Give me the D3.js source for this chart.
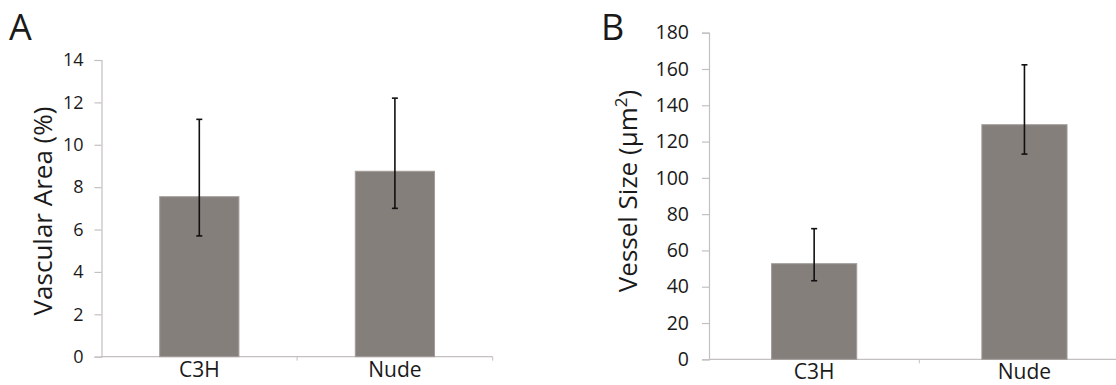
<!DOCTYPE html>
<html>
<head>
<meta charset="utf-8">
<script src="https://cdn.jsdelivr.net/npm/d3@7"></script>
<style>
  body { margin: 0; background: #fff; }
  text { font-family: "Open Sans", sans-serif; fill: #1a1a1a; }
</style>
</head>
<body>
<div class="chart"></div>
<script>
// data
var categories   = ["C3H", "Nude"];

var areaValues   = [7.55, 8.75];
var areaErrHigh  = [11.2, 12.2];
var areaErrLow   = [5.7, 7.0];
var areaTicks    = [0, 2, 4, 6, 8, 10, 12, 14];

var sizeValues   = [52.7, 129.3];
var sizeErrHigh  = [72.0, 162.3];
var sizeErrLow   = [43.3, 113.1];
var sizeTicks    = [0, 20, 40, 60, 80, 100, 120, 140, 160, 180];

var svg = d3.select(".chart")
    .append("svg")
    .attr("width", 1116)
    .attr("height", 385);

function drawPanel(opt)
{
    var g = svg.append("g");

    var x = d3.scaleBand()
        .domain(categories)
        .range([opt.x0, opt.x1])
        .paddingInner(0.595)
        .paddingOuter(0.2975);

    var y = d3.scaleLinear()
        .domain([0, opt.ticks[opt.ticks.length - 1]])
        .range([opt.y0, opt.y1]);

    // y axis
    var yAxis = g.append("g")
        .attr("transform", "translate(" + opt.x0 + ",0)")
        .call(d3.axisLeft(y).tickValues(opt.ticks).tickSize(7).tickPadding(opt.tickPad));
    yAxis.select(".domain").attr("stroke", "#c4c0bf").attr("stroke-width", 1.2);
    yAxis.selectAll(".tick line").attr("stroke", "#c4c0bf").attr("stroke-width", 1.2);
    yAxis.selectAll(".tick text")
        .attr("font-family", "Open Sans")
        .attr("font-size", opt.tickFont)
        .attr("fill", "#1a1a1a");

    // x axis baseline + boundary ticks
    g.append("line")
        .attr("x1", opt.x0).attr("x2", opt.x1)
        .attr("y1", y(0)).attr("y2", y(0))
        .attr("stroke", "#c4c0bf").attr("stroke-width", 1.2);
    var step = x.step();
    [1, 2].forEach(function (i)
    {
        var bx = opt.x0 + step * i;
        g.append("line")
            .attr("x1", bx).attr("x2", bx)
            .attr("y1", y(0)).attr("y2", y(0) + 4)
            .attr("stroke", "#c4c0bf").attr("stroke-width", 1);
    });

    // bars
    g.selectAll(".bar")
        .data(opt.values)
        .enter()
        .append("rect")
        .attr("class", "bar")
        .attr("x", function (d, i) { return x(categories[i]); })
        .attr("width", x.bandwidth())
        .attr("y", function (d) { return y(d); })
        .attr("height", function (d) { return y(0) - y(d); })
        .attr("fill", "#857f7c")
        .attr("stroke", "#a29d9a")
        .attr("stroke-width", 1);

    // error bars
    categories.forEach(function (c, i)
    {
        var cx = x(c) + x.bandwidth() / 2;
        var top = y(opt.errHigh[i]);
        var bot = y(opt.errLow[i]);
        g.append("line")
            .attr("x1", cx).attr("x2", cx)
            .attr("y1", top).attr("y2", bot)
            .attr("stroke", "#111").attr("stroke-width", 1.6);
        [top, bot].forEach(function (yy)
        {
            g.append("line")
                .attr("x1", cx - 3).attr("x2", cx + 3)
                .attr("y1", yy).attr("y2", yy)
                .attr("stroke", "#111").attr("stroke-width", 1.6);
        });
        g.append("text")
            .attr("x", cx)
            .attr("y", y(0) + 20)
            .attr("text-anchor", "middle")
            .attr("font-size", 21)
            .text(c);
    });

    // y label
    var lab = g.append("text")
        .attr("transform", "translate(" + opt.labelX + "," + opt.labelY + ") rotate(-90)")
        .attr("text-anchor", "middle")
        .attr("font-size", 26);
    opt.label(lab);

    // panel letter
    g.append("text")
        .attr("x", opt.letterX)
        .attr("y", 40)
        .attr("font-size", 36)
        .text(opt.letter);
}

drawPanel({
    x0: 101.5, x1: 492.7, y0: 356.7, y1: 60,
    ticks: areaTicks, values: areaValues, errHigh: areaErrHigh, errLow: areaErrLow,
    tickFont: 18, tickPad: 11,
    labelX: 52, labelY: 211, letterX: 9, letter: "A",
    label: function (t) { t.text("Vascular Area (%)"); }
});

drawPanel({
    x0: 709, x1: 1129.6, y0: 359.3, y1: 32.7,
    ticks: sizeTicks, values: sizeValues, errHigh: sizeErrHigh, errLow: sizeErrLow,
    tickFont: 19.5, tickPad: 13,
    labelX: 637, labelY: 191, letterX: 601, letter: "B",
    label: function (t)
    {
        t.append("tspan").text("Vessel Size (\u03bcm");
        t.append("tspan").attr("font-size", 17).attr("dy", -10).text("2");
        t.append("tspan").attr("dy", 10).text(")");
    }
});
</script>
</body>
</html>
